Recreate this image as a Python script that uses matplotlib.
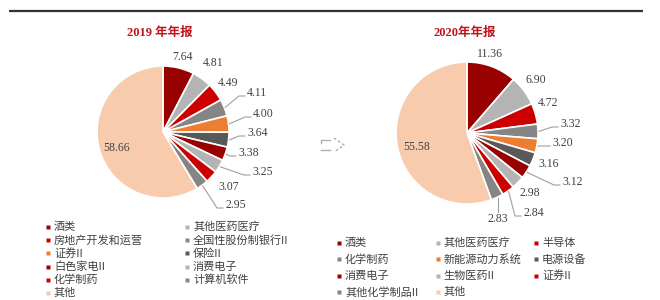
import matplotlib
matplotlib.use('Agg')
import matplotlib.pyplot as plt
import numpy as np

# ---------------- data ----------------
title_2019 = '2019 年年报'
title_2020 = '2020年年报'

cats_2019 = ['酒类', '其他医药医疗', '房地产开发和运营', '全国性股份制银行II', '证券II', '保险II',
             '白色家电II', '消费电子', '化学制药', '计算机软件', '其他']
vals_2019 = [7.64, 4.81, 4.49, 4.11, 4.00, 3.64, 3.38, 3.25, 3.07, 2.95, 58.66]

cats_2020 = ['酒类', '其他医药医疗', '半导体', '化学制药', '新能源动力系统', '电源设备',
             '消费电子', '生物医药II', '证券II', '其他化学制品II', '其他']
vals_2020 = [11.36, 6.90, 4.72, 3.32, 3.20, 3.16, 3.12, 2.98, 2.84, 2.83, 55.58]

# ---------------- styles / layout ----------------
palette = ['#990000', '#b4b4b4', '#cc0000', '#858585', '#ed7d31', '#595959',
           '#990000', '#b4b4b4', '#cc0000', '#858585', '#f8cbad']
CJK = ['Noto Sans CJK SC', 'DejaVu Sans']
NUM = ['Liberation Serif', 'DejaVu Serif']
TITLE = ['Liberation Serif', 'Noto Sans CJK SC']
TXT = '#404040'
LEAD = '#a0a0a0'

W, H = 660, 300

def Y(p):
    return H - p

# label layout: (left x, centre y, leader) in pixels; leader: 0 none, 1 elbow, 2 vertical
lab_2019 = [(172, 57, 0), (203, 63, 0), (218, 83, 0), (247, 93, 1), (253, 114, 1), (247, 133, 1),
            (238, 153, 1), (252, 172, 1), (218, 187, 0), (225, 205, 1), (103, 148, 0)]
lab_2020 = [(477, 54, 0), (525, 80, 0), (538, 103, 0), (560, 124, 1), (552, 143, 1), (538, 164, 0),
            (562, 182, 1), (520, 193, 0), (523, 213, 1), (485, 219, 2), (403, 147, 0)]

fig = plt.figure(figsize=(6.6, 3.0), dpi=100)
ax = fig.add_axes([0, 0, 1, 1])


def draw_pie(vals, cx, cy, r, labels):
    wedges, _ = ax.pie(vals, colors=palette, startangle=90, counterclock=False,
                       center=(cx, Y(cy)), radius=r,
                       wedgeprops=dict(edgecolor='white', linewidth=1.2))
    for v, w, (lx, ly, lead) in zip(vals, wedges, labels):
        a = np.deg2rad((w.theta1 + w.theta2) / 2)
        ex, ey = cx + (r + 1) * np.cos(a), Y(cy) + (r + 1) * np.sin(a)
        txt = f'{v:.2f}'
        if lead == 1:
            ax.plot([ex, lx - 8, lx - 2], [ey, Y(ly + 3), Y(ly + 3)], color=LEAD, lw=0.8)
        if lead == 2:
            ax.plot([ex, ex], [ey, Y(ly - 7)], color=LEAD, lw=0.8)
            ax.text(ex, Y(ly), txt, ha='center', va='center', fontsize=8.5,
                    family=NUM, color=TXT)
            continue
        ax.text(lx, Y(ly), txt, ha='left', va='center', fontsize=8.5, family=NUM, color=TXT)


draw_pie(vals_2019, 163, 132, 66, lab_2019)
draw_pie(vals_2020, 467, 133, 71, lab_2020)

# titles
ax.text(160, Y(33), title_2019, ha='center', va='center', fontsize=9, family=TITLE,
        fontweight='bold', color='#c0141c')
ax.text(465, Y(33), title_2020, ha='center', va='center', fontsize=9, family=TITLE,
        fontweight='bold', color='#c0141c')

# top rule
ax.plot([9, 643], [Y(11), Y(11)], color='#333333', lw=1.6, solid_capstyle='butt')

# small arrow icon in the middle
ic = '#b0b0b0'
ax.plot([330, 321, 321], [Y(140), Y(140), Y(143)], color=ic, lw=1.0)
ax.plot([321, 330], [Y(150), Y(150)], color=ic, lw=1.0)
ax.plot([334, 344, 334], [Y(138), Y(145), Y(152)], color=ic, lw=1.0, ls=(0, (2, 1.5)))


# legends (row-major grid)
def draw_legend(cats, x0, y0, dx, dy, ncol):
    for i, c in enumerate(cats):
        row, col = divmod(i, ncol)
        mx, my = x0 + col * dx, y0 + row * dy
        ax.plot([mx], [Y(my)], marker='s', ms=2.6, color=palette[i], mec='none')
        ax.text(mx + 6, Y(my), c, ha='left', va='center', fontsize=8, family=CJK, color=TXT)


draw_legend(cats_2019, 48, 227, 139, 13.2, 2)
draw_legend(cats_2020, 339, 243, 98.5, 16.4, 3)

ax.set_xlim(0, W)
ax.set_ylim(0, H)
ax.set_aspect('equal')
ax.axis('off')

fig.savefig('out.png', dpi=100, facecolor='white')
